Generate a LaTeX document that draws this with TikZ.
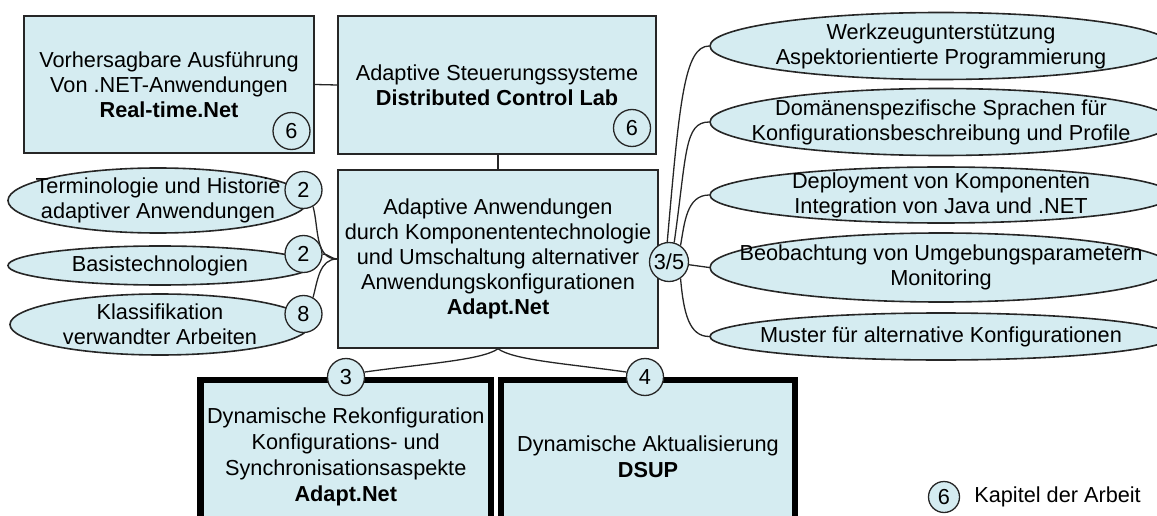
\documentclass[tikz,border=0pt]{standalone}
\usepackage{fontspec}
\setmainfont{Liberation Sans}
\usetikzlibrary{positioning, shapes.geometric}
\definecolor{kfill}{HTML}{D5ECF1}
\definecolor{kline}{HTML}{262626}
\newcommand{\kfont}{\fontsize{21.7pt}{25pt}\selectfont}
\tikzset{
  tbox/.style={draw=kline, fill=kfill, line width=1.6pt, align=center, inner sep=0pt},
  hbox/.style={draw=black, fill=kfill, line width=6.5pt, align=center, inner sep=0pt,
               font=\fontsize{21.7pt}{26pt}\selectfont},
  ell/.style={ellipse, draw=kline, fill=kfill, line width=1.6pt, align=center,
              inner xsep=-80pt, inner ysep=-12pt},
  kap/.style={circle, draw=kline, fill=kfill, line width=1.3pt,
              minimum size=37pt, inner sep=0pt},
  con/.style={draw=kline, line width=1.3pt},
}

\begin{document}
\begin{tikzpicture}[x=1pt, y=-1pt, every node/.style={font=\kfont}]
  \useasboundingbox (0,0) rectangle (1157,516);
  \clip (0,0) rectangle (1157,516);

  % Themen links
  \node[ell, minimum width=300pt, minimum height=65pt] (term) at (158,200.5)
    {Terminologie und Historie\\adaptiver Anwendungen};
  \node[ell, minimum width=304pt, minimum height=39pt] (basis) at (160,265.5)
    {Basistechnologien};
  \node[ell, minimum width=300pt, minimum height=61pt] (klass) at (160,324.5)
    {Klassifikation\\verwandter Arbeiten};

  % Themen rechts
  \node[ell, minimum width=462pt, minimum height=67pt] (werk) at (941,46)
    {Werkzeugunterstützung\\Aspektorientierte Programmierung};
  \node[ell, minimum width=462pt, minimum height=67pt] (dsl) at (941,122)
    {Domänenspezifische Sprachen für\\Konfigurationsbeschreibung und Profile};
  \node[ell, minimum width=462pt, minimum height=56pt] (depl) at (941,195)
    {Deployment von Komponenten\\Integration von Java und .NET};
  \node[ell, minimum width=462pt, minimum height=69pt] (beob) at (941,267.5)
    {Beobachtung von Umgebungsparametern\\Monitoring};
  \node[ell, minimum width=462pt, minimum height=47pt] (muster) at (941,336.5)
    {Muster für alternative Konfigurationen};

  % Projekte
  \node[tbox, minimum width=290pt, minimum height=137pt] (rt) at (169,84.5)
    {Vorhersagbare Ausführung\\Von .NET-Anwendungen\\\textbf{Real-time.Net}};
  \node[tbox, minimum width=318pt, minimum height=138pt] (dcl) at (497,85)
    {Adaptive Steuerungssysteme\\\textbf{Distributed Control Lab}};
  \node[tbox, minimum width=320pt, minimum height=178pt] (adapt) at (498,259)
    {Adaptive Anwendungen\\durch Komponententechnologie\\und Umschaltung alternativer\\Anwendungskonfigurationen\\\textbf{Adapt.Net}};
  \node[hbox, minimum width=290.5pt, minimum height=154pt] (rekonf) at (345.75,457)
    {Dynamische Rekonfiguration\\Konfigurations- und\\Synchronisationsaspekte\\\textbf{Adapt.Net}};
  \node[hbox, minimum width=294pt, minimum height=154pt] (dsup) at (648,457)
    {Dynamische Aktualisierung\\\textbf{DSUP}};

  % Kapitel
  \node[kap] (k6a) at (291.5,131) {6};
  \node[kap] (k6b) at (632,128) {6};
  \node[kap] (k2a) at (303.5,190) {2};
  \node[kap] (k2b) at (303.5,254) {2};
  \node[kap] (k8) at (303.5,314) {8};
  \node[kap, minimum size=39pt] (k35) at (669,262) {3/5};
  \node[kap] (k3) at (346,377) {3};
  \node[kap] (k4) at (645,377) {4};

  % Verbindungen
  \draw[con] (rt.east) -- (dcl.west);
  \draw[con] (adapt.north |- dcl.south) -- (adapt.north);
  \draw[con] (k2a.-60) to[out=-75, in=180] (adapt.west);
  \draw[con] (k2b.east) to[out=0, in=180] (adapt.west);
  \draw[con] (k8.60) to[out=75, in=180] (adapt.west);
  \draw[con] (k35.95) to[out=85, in=180, out distance=140pt, in distance=25pt] (werk.west);
  \draw[con] (k35.75) to[out=82, in=180, out distance=90pt, in distance=25pt] (dsl.west);
  \draw[con] (k35.55) to[out=80, in=180] (depl.west);
  \draw[con] (k35) -- (beob.west);
  \draw[con] (k35.-55) to[out=-85, in=180, out distance=35pt, in distance=20pt] (muster.west);
  \draw[con] (adapt.south) to[out=-145, in=8, out distance=20pt, in distance=60pt] (k3.15);
  \draw[con] (adapt.south) to[out=-35, in=172, out distance=20pt, in distance=60pt] (k4.165);

  % Legende
  \node[kap, minimum size=31pt] (leg) at (944,497) {6};
  \node[right=14pt of leg, inner sep=0pt] (legtxt) {Kapitel der Arbeit};
\end{tikzpicture}
\end{document}
